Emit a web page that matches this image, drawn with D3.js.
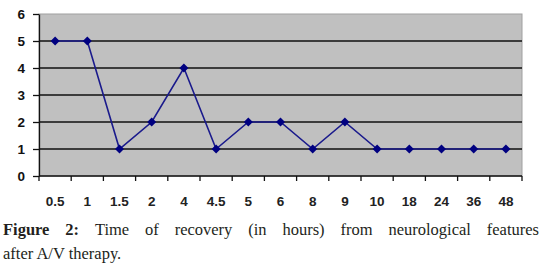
<!DOCTYPE html>
<html>
<head>
<meta charset="utf-8">
<script src="https://cdn.jsdelivr.net/npm/d3@7"></script>
<style>
  body { margin: 0; background: #fff; }
  svg { display: block; }
</style>
</head>
<body>
<div id="chart"></div>
<script>
// recovery time categories (hours) and patient counts
const hours = ["0.5", "1", "1.5", "2", "4", "4.5", "5", "6", "8", "9", "10", "18", "24", "36", "48"];
const patients = [5, 5, 1, 2, 4, 1, 2, 2, 1, 2, 1, 1, 1, 1, 1];
const yTicks = [0, 1, 2, 3, 4, 5, 6];

const W = 542, H = 276;
const margin = { top: 14, right: 20, bottom: 100, left: 39 };
const width = W - margin.left - margin.right,
      height = H - margin.top - margin.bottom;

const svg = d3.select("#chart").append("svg")
    .attr("width", W)
    .attr("height", H);

const g = svg.append("g")
    .attr("transform", `translate(${margin.left},${margin.top})`);

const x = d3.scaleBand()
    .domain(hours)
    .range([0, width]);

const y = d3.scaleLinear()
    .domain([0, 6])
    .range([height, 0]);

// plot area
g.append("rect")
    .attr("width", width)
    .attr("height", height)
    .attr("fill", "#c0c0c0")
    .attr("stroke", "#a0a0a0")
    .attr("stroke-width", 1);

// gridlines
g.append("g")
    .selectAll("line")
    .data(yTicks.filter(d => d > 0 && d < 6))
    .join("line")
    .attr("x1", 0)
    .attr("x2", width)
    .attr("y1", d => y(d))
    .attr("y2", d => y(d))
    .attr("stroke", "#111")
    .attr("stroke-width", 1.3);

// Y axis
const yAxis = g.append("g")
    .call(d3.axisLeft(y).tickValues(yTicks).tickFormat(d3.format("d"))
        .tickSize(6).tickSizeOuter(0).tickPadding(8));
yAxis.select(".domain").attr("stroke", "#111").attr("stroke-width", 1.3);
yAxis.selectAll(".tick line").attr("stroke", "#111").attr("stroke-width", 1.3);
yAxis.selectAll("text")
    .attr("font-family", "Arial, 'Liberation Sans', sans-serif")
    .attr("font-weight", "bold")
    .attr("font-size", 13.5)
    .attr("fill", "#111");

// X axis with ticks between categories
const xAxis = g.append("g")
    .attr("transform", `translate(0,${height})`);
xAxis.append("line")
    .attr("x1", 0).attr("x2", width)
    .attr("stroke", "#111").attr("stroke-width", 1.3);
xAxis.selectAll(".sep")
    .data(hours.concat(["end"]))
    .join("line")
    .attr("class", "sep")
    .attr("x1", (d, i) => i < hours.length ? x(d) : width)
    .attr("x2", (d, i) => i < hours.length ? x(d) : width)
    .attr("y1", 0).attr("y2", 5)
    .attr("stroke", "#111").attr("stroke-width", 1.3);
xAxis.selectAll(".lbl")
    .data(hours)
    .join("text")
    .attr("class", "lbl")
    .attr("x", d => x(d) + x.bandwidth() / 2)
    .attr("y", 25)
    .attr("dy", "0.35em")
    .attr("text-anchor", "middle")
    .attr("font-family", "Arial, 'Liberation Sans', sans-serif")
    .attr("font-weight", "bold")
    .attr("font-size", 13.5)
    .attr("fill", "#222")
    .text(d => d);

// line + markers
const line = d3.line()
    .x((d, i) => x(hours[i]) + x.bandwidth() / 2)
    .y(d => y(d));

g.append("path")
    .datum(patients)
    .attr("d", line)
    .attr("fill", "none")
    .attr("stroke", "#1a1a8c")
    .attr("stroke-width", 1.6);

g.append("g")
    .selectAll("path")
    .data(patients)
    .join("path")
    .attr("transform", (d, i) => `translate(${x(hours[i]) + x.bandwidth() / 2},${y(d)})`)
    .attr("d", "M0,-4.5L4.5,0L0,4.5L-4.5,0Z")
    .attr("fill", "#000080");

// caption, first line justified
const cap = svg.append("g")
    .attr("font-family", "'Liberation Serif', 'Times New Roman', serif")
    .attr("font-size", 16.5)
    .attr("fill", "#231f20");

const line1 = [
    { t: "Figure", b: true }, { t: "2:", b: true }, { t: "Time", b: false }, { t: "of", b: false },
    { t: "recovery", b: false }, { t: "(in", b: false }, { t: "hours)", b: false }, { t: "from", b: false },
    { t: "neurological", b: false }, { t: "features", b: false }
];
const x0 = 3, x1 = 539;
const words = cap.selectAll(".w")
    .data(line1)
    .join("text")
    .attr("class", "w")
    .attr("y", 235)
    .attr("font-weight", d => d.b ? "bold" : "normal")
    .text(d => d.t);
const lens = [];
words.each(function () { lens.push(this.getComputedTextLength()); });
const total = d3.sum(lens);
const gap = (x1 - x0 - total) / (line1.length - 1);
let cx = x0;
words.each(function (d, i) {
    d3.select(this).attr("x", cx);
    cx += lens[i] + gap;
});

cap.append("text")
    .attr("x", x0)
    .attr("y", 259)
    .text("after A/V therapy.");
</script>
</body>
</html>
